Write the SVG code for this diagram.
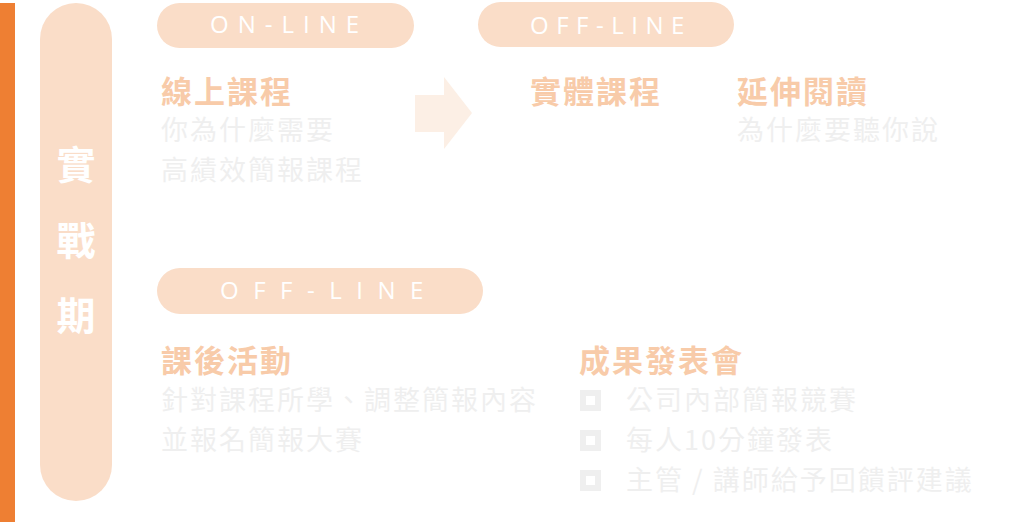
<svg xmlns="http://www.w3.org/2000/svg" width="1024" height="522" viewBox="0 0 1024 522">
<style>
.pill{fill:#FADDC8}
.tag{font-family:"Open Sans","Liberation Sans",sans-serif;font-size:24px;fill:#FFFFFF;font-weight:400}
.vt{font-family:"Noto Sans CJK TC",sans-serif;font-size:39px;font-weight:700;fill:#FFFFFF}
.hd{font-family:"Noto Sans CJK TC",sans-serif;font-size:31px;font-weight:700;fill:#F8CBA9;letter-spacing:2px}
.sub{font-family:"Noto Sans CJK TC",sans-serif;font-size:27px;fill:#EFEFEF;letter-spacing:2px}
.box{fill:none;stroke:#EFEFEF;stroke-width:6}
</style>
<rect width="1024" height="522" fill="#FFFFFF"/>
<rect x="0" y="3" width="15" height="519" fill="#EE7F33"/>
<g id="phase">
<rect class="pill" x="40" y="3" width="72" height="498" rx="36"/>
<text class="vt" x="76" y="179" text-anchor="middle">實</text>
<text class="vt" x="76" y="255" text-anchor="middle">戰</text>
<text class="vt" x="76" y="330" text-anchor="middle">期</text>
</g>
<g id="online">
<rect class="pill" x="157" y="3" width="257" height="45" rx="22.5"/>
<text class="tag" x="210" y="33" style="letter-spacing:9px">ON-LINE</text>
<text class="hd" x="161" y="103">線上課程</text>
<text class="sub" x="161" y="140">你為什麼需要</text>
<text class="sub" x="161" y="180">高績效簡報課程</text>
</g>
<g id="connectors">
<polygon points="415,95 444,95 444,77 472,113 444,149 444,132 415,132" fill="#FCEFE5"/>
</g>
<g id="offline-top">
<rect class="pill" x="478" y="2" width="256" height="45" rx="22.5"/>
<text class="tag" x="530" y="34" style="letter-spacing:7.5px">OFF-LINE</text>
<text class="hd" x="530" y="103">實體課程</text>
<text class="hd" x="737" y="103">延伸閱讀</text>
<text class="sub" x="737" y="140">為什麼要聽你說</text>
</g>
<g id="offline-bottom">
<rect class="pill" x="157" y="268" width="326" height="46" rx="23"/>
<text class="tag" x="220" y="299" style="letter-spacing:14.5px">OFF-LINE</text>
<text class="hd" x="161" y="372">課後活動</text>
<text class="sub" x="161" y="410">針對課程所學、調整簡報內容</text>
<text class="sub" x="161" y="450">並報名簡報大賽</text>
</g>
<g id="result">
<text class="hd" x="579" y="372">成果發表會</text>
<rect class="box" x="583" y="393" width="15" height="15"/>
<rect class="box" x="583" y="433" width="15" height="15"/>
<rect class="box" x="583" y="473" width="15" height="15"/>
<text class="sub" x="626" y="410">公司內部簡報競賽</text>
<text class="sub" x="626" y="450">每人10分鐘發表</text>
<text class="sub" x="626" y="490">主管 / 講師給予回饋評建議</text>
</g>
</svg>
